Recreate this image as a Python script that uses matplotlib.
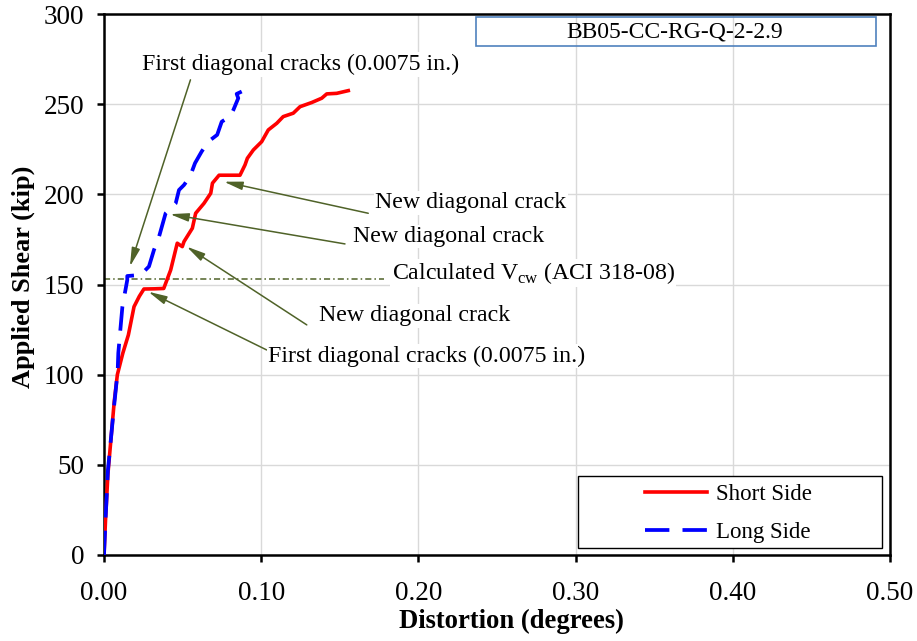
import numpy as np
import matplotlib
matplotlib.use("Agg")
import matplotlib.pyplot as plt
from matplotlib.patches import Rectangle
from matplotlib.ticker import FormatStrFormatter

plt.rcParams['font.family'] = ['Liberation Serif', 'DejaVu Serif']
plt.rcParams['mathtext.fontset'] = 'custom'
plt.rcParams['mathtext.rm'] = 'Liberation Serif'

# Short Side (red, solid)
short_x = [0, 0.001, 0.0025, 0.0045, 0.0065, 0.0085, 0.012, 0.0155, 0.0191, 0.0225,
           0.0254, 0.032, 0.038, 0.0424, 0.0466, 0.0498, 0.0509, 0.0562, 0.0583, 0.0636,
           0.0679, 0.069, 0.0732, 0.080, 0.0865, 0.0897, 0.0912, 0.095, 0.1003, 0.1045,
           0.1099, 0.114, 0.1204, 0.1247, 0.1321, 0.1385, 0.1417, 0.148, 0.1554]
short_y = [0, 20, 45, 65, 85, 100, 112, 122, 137.7, 143.5,
           147.5, 147.6, 147.8, 158, 172.9, 171, 173.8, 181.2, 189.5, 195,
           200.6, 206.2, 210.6, 210.6, 210.6, 216.3, 220, 224.6, 229.2, 235.7,
           239.4, 243.1, 245, 248.6, 250.9, 253.3, 255.7, 256, 257.5]

# Long Side (blue, dashed)
long_x = [0, 0.001, 0.0025, 0.006, 0.0087, 0.0091, 0.0117, 0.0148, 0.0148, 0.0233,
          0.0286, 0.0318, 0.035, 0.0392, 0.0456, 0.0477, 0.0509, 0.0547, 0.0579, 0.0621,
          0.0663, 0.072, 0.0749, 0.0802, 0.0823, 0.0854, 0.0844, 0.0876]
long_y = [0, 20, 47, 79, 102, 112, 137.7, 152.5, 154.7, 155.3,
          160, 169.2, 176.5, 189.5, 195, 202.4, 205.2, 209.8, 217.3, 223.7,
          229.2, 233, 240.3, 243.1, 246.8, 253.3, 255.7, 257]

vcw = 153  # Calculated Vcw (ACI 318-08)

olive = '#4F6228'

fig = plt.figure(figsize=(9.17, 6.41), dpi=100)
ax = fig.add_axes([104/917, 1-555/641, 786/917, 541/641])

ax.set_xlim(0, 0.5)
ax.set_ylim(0, 300)
ax.set_xticks(np.arange(0, 0.51, 0.1))
ax.set_yticks(np.arange(0, 301, 50))
ax.xaxis.set_major_formatter(FormatStrFormatter('%.2f'))
ax.grid(True, color='#D9D9D9', lw=1)
ax.set_axisbelow(True)
for s in ax.spines.values():
    s.set_linewidth(1.8)
ax.tick_params(direction='out', length=5, width=1.8, labelsize=19.5)
ax.tick_params(axis='x', pad=14)
ax.tick_params(axis='y', pad=9)

ax.plot(short_x, short_y, color='#FF0000', lw=2.6, label='Short Side', zorder=3)
ax.plot(long_x, long_y, color='#0000FF', lw=2.7, dashes=(6.5, 3.5), label='Long Side', zorder=3)

# Vcw line
ax.plot([0, 0.178], [vcw, vcw], color=olive, lw=1.1, linestyle=(0, (4, 2, 1, 2)), zorder=2)

box = dict(facecolor='white', edgecolor='none', pad=1)
ax.text(0.183, 156.4, r'Calculated V$_{\rm cw}$ (ACI 318-08)', fontsize=17.2,
        ha='left', va='center', bbox=box, zorder=4)

# annotations: text, text pos, arrow tail, arrow tip
notes = [
    ('First diagonal cracks (0.0075 in.)', (0.024, 272), (0.055, 263.5), (0.0165, 160)),
    ('New diagonal crack', (0.1724, 195.2), (0.1681, 189.5), (0.0763, 207)),
    ('New diagonal crack', (0.1582, 176.6), (0.1533, 172.5), (0.042, 189)),
    ('New diagonal crack', (0.1368, 132.6), (0.129, 127.6), (0.0526, 171)),
    ('First diagonal cracks (0.0075 in.)', (0.1043, 110.4), (0.1035, 113.7), (0.0282, 146)),
]
for txt, pos, tail, tip in notes:
    ax.annotate('', xy=tip, xytext=tail,
                arrowprops=dict(arrowstyle='-|>,head_length=0.8,head_width=0.18',
                                color=olive, lw=1.1, shrinkA=0, shrinkB=0,
                                mutation_scale=14), zorder=4)
    ax.text(pos[0], pos[1], txt, fontsize=17.2, ha='left', va='center', bbox=box, zorder=5)

# title box
ax.add_patch(Rectangle((0.4733, 0.941), 0.509, 0.053, transform=ax.transAxes,
                       fill=False, edgecolor='#4F81BD', lw=1.2, zorder=4))
ax.text(0.7265, 0.967, 'BB05-CC-RG-Q-2-2.9', transform=ax.transAxes, fontsize=17,
        ha='center', va='center', zorder=5)

# legend box
ax.add_patch(Rectangle((0.603, 0.013), 0.387, 0.133, transform=ax.transAxes,
                       facecolor='white', edgecolor='black', lw=1.0, zorder=4))
ax.legend(loc='center', bbox_to_anchor=(0.794, 0.0767), frameon=False, fontsize=16.5,
          handlelength=2.7, handletextpad=0.4, labelspacing=0.7)

ax.set_xlabel('Distortion (degrees)', fontsize=19.2, fontweight='bold')
ax.set_ylabel('Applied Shear (kip)', fontsize=19, fontweight='bold')
ax.xaxis.set_label_coords(0.518, -0.0998)
ax.yaxis.set_label_coords(-0.088, 0.514)

fig.savefig('out.png', dpi=100)
